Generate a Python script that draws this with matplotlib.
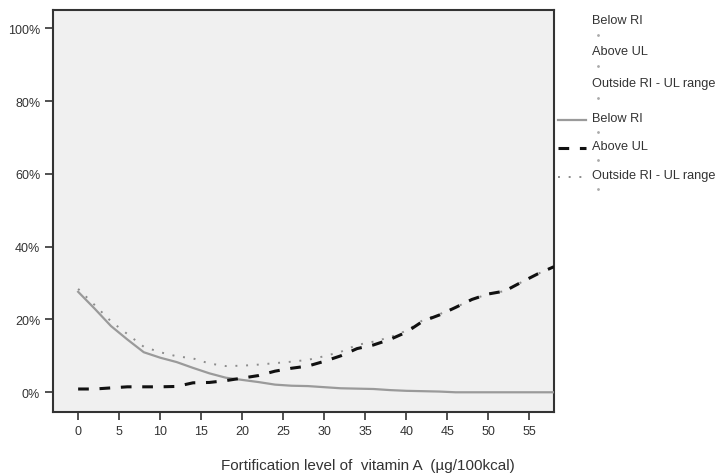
import matplotlib
matplotlib.use("Agg")
import matplotlib.pyplot as plt
from matplotlib.ticker import FuncFormatter

plt.rcParams['font.family'] = ['Liberation Sans', 'DejaVu Sans']

# ---- data ----
level = [0, 2, 4, 6, 8, 10, 12, 14, 16, 18, 20, 22, 24, 26, 28,
         30, 32, 34, 36, 38, 40, 42, 44, 46, 48, 50, 52, 54, 56, 58]
below_ri = [27.6, 23.0, 18.2, 14.5, 11.0, 9.5, 8.3, 6.7, 5.2, 4.0, 3.4, 2.8, 2.1, 1.8, 1.7,
            1.4, 1.1, 1.0, 0.9, 0.6, 0.4, 0.3, 0.2, 0.0, 0.0, 0.0, 0.0, 0.0, 0.0, 0.0]
above_ul = [0.9, 0.9, 1.2, 1.5, 1.5, 1.5, 1.6, 2.6, 2.7, 3.2, 3.9, 4.6, 5.8, 6.6, 7.2,
            8.5, 10.0, 12.0, 13.0, 14.5, 16.5, 19.5, 21.2, 23.3, 25.5, 27.0, 27.8, 30.2, 32.5, 34.5]
outside = [28.4, 24.0, 19.5, 16.0, 12.5, 11.0, 9.9, 9.3, 7.9, 7.2, 7.3, 7.6, 8.0, 8.4, 8.9,
           9.9, 11.1, 13.0, 13.9, 15.1, 16.9, 19.8, 21.4, 23.3, 25.5, 27.0, 27.8, 30.2, 32.5, 34.5]
xticks = list(range(0, 60, 5))
yticks = [0, 20, 40, 60, 80, 100]
legend_names = ['Below RI', 'Above UL', 'Outside RI - UL range']

W, H = 717, 477
fig = plt.figure(figsize=(W / 100, H / 100), dpi=100)
ax = fig.add_axes([52.7 / W, 1 - 413.3 / H, (554 - 52.7) / W, (413.3 - 11) / H])
ax.set_facecolor('#f0f0f0')

ax.plot(level, below_ri, color='#9a9a9a', lw=1.6, zorder=3)
ax.plot(level, above_ul, color='#111111', lw=2.2, dashes=(3.5, 3.5), zorder=4)
ax.plot(level, outside, color='#8c8c8c', lw=1.4, dashes=(1, 4.5), zorder=2)

ax.set_xlim(-3.1, 58)
ax.set_ylim(-5.5, 105)
ax.set_xticks(xticks)
ax.set_yticks(yticks)
ax.yaxis.set_major_formatter(FuncFormatter(lambda v, p: f'{v:.0f}%'))
ax.tick_params(direction='out', length=6, width=1.2, color='#333333',
               labelsize=9, labelcolor='#333333', pad=3)
for s in ax.spines.values():
    s.set_color('#333333')
    s.set_linewidth(1.5)
ax.set_xlabel('Fortification level of  vitamin A  (\u00b5g/100kcal)',
              fontsize=11, color='#333333', va='center')
ax.xaxis.set_label_coords(0.628, -0.13)

# ---- legend area, in pixel coordinates ----
lg = fig.add_axes([0, 0, 1, 1])
lg.set_xlim(0, W)
lg.set_ylim(H, 0)
lg.axis('off')
lg.patch.set_alpha(0)

tx = 592
rows_top = [21, 52, 84]
for name, y in zip(legend_names, rows_top):
    lg.text(tx, y, name, fontsize=9.2, color='#333333', va='center')
    lg.plot([598], [y + 15], marker='.', ms=2, color='#aaaaaa')

rows_bot = [119, 147, 176]
styles = [dict(color='#9a9a9a', lw=1.6),
          dict(color='#111111', lw=2.2, dashes=(3.5, 3.5)),
          dict(color='#8c8c8c', lw=1.4, dashes=(1, 4.5))]
for name, y, st in zip(legend_names, rows_bot, styles):
    lg.plot([558, 586], [y + 2, y + 2], **st)
    lg.text(tx, y, name, fontsize=9.2, color='#333333', va='center')
    lg.plot([598], [y + 14], marker='.', ms=2, color='#aaaaaa')

fig.savefig('out.png', dpi=100)
